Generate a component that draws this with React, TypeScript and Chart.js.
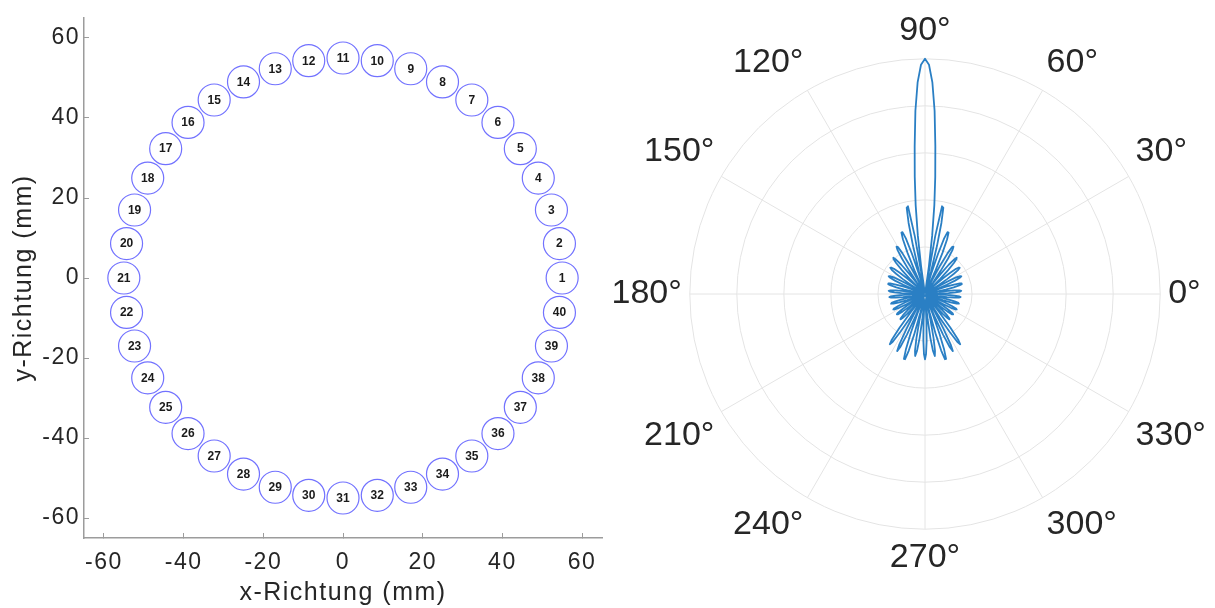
import { useEffect, useRef } from 'react';
import { Chart, registerables } from 'chart.js';

Chart.register(...registerables);
Chart.defaults.font.family = '"Liberation Sans", Arial, Helvetica, sans-serif';

// ---- Microphone ring layout (positions in mm) ----
const micIds = [
  1, 2, 3, 4, 5, 6, 7, 8, 9, 10, 11, 12, 13, 14, 15, 16, 17, 18, 19, 20,
  21, 22, 23, 24, 25, 26, 27, 28, 29, 30, 31, 32, 33, 34, 35, 36, 37, 38, 39, 40,
];
const micX = [
  55.0, 54.32, 52.31, 49.01, 44.5, 38.89, 32.33, 24.97, 17.0, 8.6,
  0.0, -8.6, -17.0, -24.97, -32.33, -38.89, -44.5, -49.01, -52.31, -54.32,
  -55.0, -54.32, -52.31, -49.01, -44.5, -38.89, -32.33, -24.97, -17.0, -8.6,
  0.0, 8.6, 17.0, 24.97, 32.33, 38.89, 44.5, 49.01, 52.31, 54.32,
];
const micY = [
  0.0, 8.6, 17.0, 24.97, 32.33, 38.89, 44.5, 49.01, 52.31, 54.32,
  55.0, 54.32, 52.31, 49.01, 44.5, 38.89, 32.33, 24.97, 17.0, 8.6,
  0.0, -8.6, -17.0, -24.97, -32.33, -38.89, -44.5, -49.01, -52.31, -54.32,
  -55.0, -54.32, -52.31, -49.01, -44.5, -38.89, -32.33, -24.97, -17.0, -8.6,
];
const axisTicks = [-60, -40, -20, 0, 20, 40, 60];

// ---- Beam pattern: normalised gain per degree (index = angle, counter-clockwise from 0°) ----
const beamGain = [
  0.01, 0.06, 0.10, 0.13, 0.15, 0.155, 0.148, 0.125, 0.09, 0.05, // 0
  0.005, 0.045, 0.09, 0.125, 0.15, 0.162, 0.162, 0.155, 0.13, 0.095, // 10
  0.05, 0.005, 0.05, 0.10, 0.14, 0.165, 0.172, 0.168, 0.15, 0.11, // 20
  0.06, 0.015, 0.02, 0.07, 0.115, 0.15, 0.175, 0.185, 0.183, 0.17, // 30
  0.14, 0.10, 0.05, 0.005, 0.04, 0.09, 0.14, 0.18, 0.20, 0.205, // 40
  0.19, 0.16, 0.11, 0.06, 0.005, 0.06, 0.12, 0.18, 0.22, 0.235, // 50
  0.23, 0.20, 0.14, 0.07, 0.015, 0.03, 0.11, 0.19, 0.25, 0.28, // 60
  0.28, 0.25, 0.18, 0.09, 0.005, 0.10, 0.21, 0.31, 0.375, 0.38, // 70
  0.25, 0.01, 0.12, 0.25, 0.38, 0.50, 0.63, 0.78, 0.90, 0.975, // 80
  1.0, 0.975, 0.90, 0.78, 0.63, 0.50, 0.38, 0.25, 0.12, 0.01, // 90
  0.25, 0.38, 0.375, 0.31, 0.21, 0.10, 0.005, 0.09, 0.18, 0.25, // 100
  0.28, 0.28, 0.25, 0.19, 0.11, 0.03, 0.015, 0.07, 0.14, 0.20, // 110
  0.23, 0.235, 0.22, 0.18, 0.12, 0.06, 0.005, 0.06, 0.11, 0.16, // 120
  0.19, 0.205, 0.20, 0.18, 0.14, 0.09, 0.04, 0.005, 0.05, 0.10, // 130
  0.14, 0.17, 0.183, 0.185, 0.175, 0.15, 0.115, 0.07, 0.02, 0.015, // 140
  0.06, 0.11, 0.15, 0.168, 0.172, 0.165, 0.14, 0.10, 0.05, 0.005, // 150
  0.05, 0.095, 0.13, 0.155, 0.162, 0.162, 0.15, 0.125, 0.09, 0.045, // 160
  0.005, 0.05, 0.09, 0.125, 0.148, 0.155, 0.15, 0.13, 0.10, 0.06, // 170
  0.01, 0.045, 0.09, 0.125, 0.147, 0.152, 0.145, 0.125, 0.095, 0.055, // 180
  0.01, 0.015, 0.06, 0.10, 0.13, 0.147, 0.15, 0.14, 0.115, 0.08, // 190
  0.04, 0.005, 0.045, 0.09, 0.125, 0.145, 0.15, 0.145, 0.125, 0.09, // 200
  0.045, 0.005, 0.045, 0.09, 0.12, 0.143, 0.148, 0.143, 0.12, 0.09, // 210
  0.045, 0.005, 0.05, 0.095, 0.13, 0.147, 0.15, 0.14, 0.115, 0.08, // 220
  0.03, 0.025, 0.10, 0.18, 0.24, 0.261, 0.245, 0.19, 0.12, 0.045, // 230
  0.01, 0.09, 0.17, 0.24, 0.27, 0.25, 0.19, 0.10, 0.005, 0.09, // 240
  0.18, 0.25, 0.29, 0.29, 0.25, 0.18, 0.08, 0.02, 0.11, 0.19, // 250
  0.245, 0.267, 0.245, 0.19, 0.11, 0.025, 0.03, 0.12, 0.20, 0.255, // 260
  0.278, 0.255, 0.20, 0.12, 0.03, 0.025, 0.11, 0.19, 0.245, 0.267, // 270
  0.245, 0.19, 0.11, 0.02, 0.08, 0.18, 0.25, 0.29, 0.29, 0.25, // 280
  0.18, 0.09, 0.005, 0.10, 0.19, 0.25, 0.27, 0.24, 0.17, 0.09, // 290
  0.01, 0.045, 0.12, 0.19, 0.245, 0.261, 0.24, 0.18, 0.10, 0.025, // 300
  0.03, 0.08, 0.115, 0.14, 0.15, 0.147, 0.13, 0.095, 0.05, 0.005, // 310
  0.045, 0.09, 0.12, 0.143, 0.148, 0.143, 0.12, 0.09, 0.045, 0.005, // 320
  0.045, 0.09, 0.125, 0.145, 0.15, 0.145, 0.125, 0.09, 0.045, 0.005, // 330
  0.04, 0.08, 0.115, 0.14, 0.15, 0.147, 0.13, 0.10, 0.06, 0.015, // 340
  0.01, 0.055, 0.095, 0.125, 0.145, 0.152, 0.147, 0.125, 0.09, 0.045, // 350
];
const polarTickAngles = [0, 30, 60, 90, 120, 150, 180, 210, 240, 270, 300, 330];
const polarTickLabels = ['0°', '30°', '60°', '90°', '120°', '150°', '180°', '210°', '240°', '270°', '300°', '330°'];
const radialTicks = [0, 0.2, 0.4, 0.6, 0.8, 1.0];

const TEXT = '#262626';
const AXIS = '#9c9c9c';
const GRID = '#e4e4e4';

// Wider tracking for the axis texts of the layout panel
const textSpacingPlugin = {
  id: 'textSpacing',
  beforeLayout(chart: any) {
    chart.ctx.letterSpacing = '1.5px';
  },
  beforeDraw(chart: any) {
    chart.ctx.letterSpacing = '1.5px';
  },
};

// Channel numbers written into each microphone circle
const micNumberPlugin = {
  id: 'micNumbers',
  afterDatasetsDraw(chart: any) {
    const ctx = chart.ctx as CanvasRenderingContext2D;
    const meta = chart.getDatasetMeta(0);
    ctx.save();
    (ctx as any).letterSpacing = '0px';
    ctx.font = 'bold 12px "Liberation Sans", Arial, sans-serif';
    ctx.fillStyle = '#1a1a1a';
    ctx.textAlign = 'center';
    ctx.textBaseline = 'middle';
    meta.data.forEach((pt: any, i: number) => {
      ctx.fillText(String(micIds[i]), pt.x, pt.y + 0.5);
    });
    ctx.restore();
  },
};

const fixedTicks = (axis: any) => {
  axis.ticks = axisTicks.map((v) => ({ value: v }));
};

export default function App() {
  const layoutRef = useRef<HTMLCanvasElement>(null);
  const polarRef = useRef<HTMLCanvasElement>(null);

  useEffect(() => {
    const layoutChart = new Chart(layoutRef.current as HTMLCanvasElement, {
      type: 'scatter',
      data: {
        datasets: [
          {
            data: micX.map((x, i) => ({ x, y: micY[i] })),
            pointRadius: 16,
            pointHoverRadius: 16,
            pointBorderColor: '#7272ff',
            pointBackgroundColor: 'rgba(255,255,255,0)',
            pointBorderWidth: 1.2,
          },
        ],
      },
      options: {
        animation: false,
        responsive: false,
        events: [],
        layout: { padding: { top: 18, right: 38, left: 0, bottom: 0 } },
        plugins: { legend: { display: false }, tooltip: { enabled: false } },
        scales: {
          x: {
            type: 'linear',
            min: -65,
            max: 65,
            afterBuildTicks: fixedTicks,
            afterFit: (s: any) => {
              s.height = 70;
            },
            grid: { drawOnChartArea: false, drawTicks: true, tickLength: -5, color: AXIS, lineWidth: 1 },
            border: { display: true, color: AXIS, width: 1.5 },
            ticks: { padding: 16, color: TEXT, font: { size: 23 }, maxRotation: 0, autoSkip: false },
            title: {
              display: true,
              text: 'x-Richtung (mm)',
              color: TEXT,
              font: { size: 25 },
              padding: { top: 0, bottom: 0 },
            },
          },
          y: {
            type: 'linear',
            min: -65,
            max: 65,
            afterBuildTicks: fixedTicks,
            afterFit: (s: any) => {
              s.width = 84;
              s.paddingTop = 0;
              s.paddingBottom = 0;
            },
            grid: { drawOnChartArea: false, drawTicks: true, tickLength: -5, color: AXIS, lineWidth: 1 },
            border: { display: true, color: AXIS, width: 1.5 },
            ticks: { padding: 9, color: TEXT, font: { size: 23 }, autoSkip: false },
            title: {
              display: true,
              text: 'y-Richtung (mm)',
              color: TEXT,
              font: { size: 25 },
              padding: { top: 9, bottom: 0 },
            },
          },
        },
      } as any,
      plugins: [textSpacingPlugin, micNumberPlugin],
    });

    // Radar index i runs clockwise from the right, i.e. angle (360 - i) mod 360
    const spokeAngles = beamGain.map((_, i) => (360 - i) % 360);
    const polarLabels = spokeAngles.map((a) => {
      const k = polarTickAngles.indexOf(a);
      return k >= 0 ? polarTickLabels[k] : '';
    });
    const polarValues = spokeAngles.map((a) => beamGain[a]);

    const polarChart = new Chart(polarRef.current as HTMLCanvasElement, {
      type: 'radar',
      data: {
        labels: polarLabels,
        datasets: [
          {
            data: polarValues,
            borderColor: '#2a7fc4',
            backgroundColor: 'rgba(0,0,0,0)',
            borderWidth: 1.8,
            borderJoinStyle: 'round',
            pointRadius: 0,
            pointHoverRadius: 0,
            pointHitRadius: 0,
            fill: false,
            tension: 0,
          },
        ],
      },
      options: {
        animation: false,
        responsive: false,
        events: [],
        plugins: { legend: { display: false }, tooltip: { enabled: false } },
        scales: {
          r: {
            min: 0,
            max: 1,
            startAngle: 90,
            afterBuildTicks: (axis: any) => {
              axis.ticks = radialTicks.map((v) => ({ value: v }));
            },
            ticks: { display: false },
            grid: { circular: true, color: GRID, lineWidth: 1 },
            angleLines: {
              display: true,
              color: (ctx: any) => (spokeAngles[ctx.index] % 30 === 0 ? GRID : 'rgba(0,0,0,0)'),
              lineWidth: (ctx: any) => (spokeAngles[ctx.index] % 30 === 0 ? 1 : 0),
            },
            pointLabels: {
              display: true,
              color: TEXT,
              padding: 8,
              font: { size: 34, lineHeight: 1.2 },
            },
          },
        },
      } as any,
    });

    return () => {
      layoutChart.destroy();
      polarChart.destroy();
    };
  }, []);

  return (
    <div
      style={{
        position: 'absolute',
        left: 0,
        top: 0,
        width: 1215,
        height: 608,
        overflow: 'hidden',
        background: '#ffffff',
      }}
    >
      <canvas
        ref={layoutRef}
        width={640}
        height={608}
        style={{ position: 'absolute', left: 0, top: 0, width: 640, height: 608 }}
      />
      <canvas
        ref={polarRef}
        width={730}
        height={568}
        style={{ position: 'absolute', left: 560, top: 10, width: 730, height: 568 }}
      />
    </div>
  );
}
